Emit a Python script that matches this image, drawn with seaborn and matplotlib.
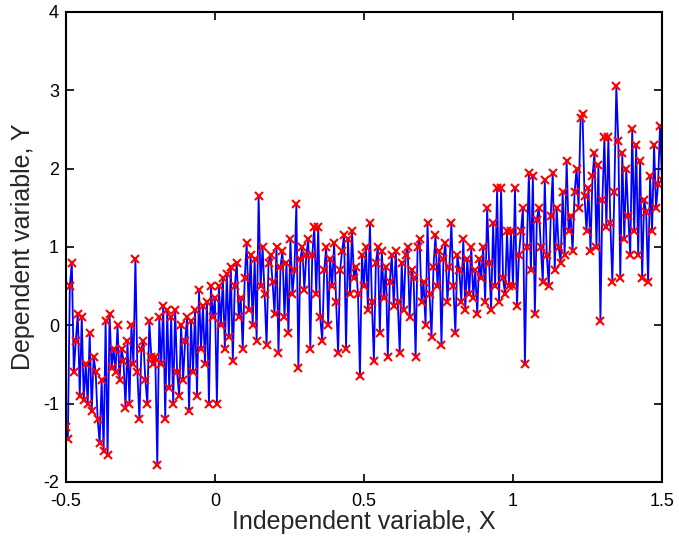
import numpy as np
import pandas as pd
import matplotlib
matplotlib.use("Agg")
import matplotlib.pyplot as plt
import seaborn as sns

y_values = [
    -1.3, -1.45, 0.5, 0.8, -0.6, -0.2, 0.15, -0.9, 0.1, -0.95, -0.5, -1.0, -0.1, -1.1, -0.4,
    -0.6, -1.2, -1.5, -0.7, -1.6, 0.05, -1.65, 0.15, -0.55, -0.3, -0.6, 0.0, -0.7, -0.3, -0.45,
    -1.05, -0.2, -1.0, 0.0, -0.5, 0.85, -0.6, -1.2, -0.3, -0.2, -0.7, -1.0, 0.05, -0.4, -0.5,
    -0.4, -1.78, 0.1, -0.5, 0.25, -1.2, 0.2, -0.8, 0.1, -1.0, 0.2, -0.6, -0.9, 0.0, -0.7,
    -0.2, 0.1, -1.1, 0.05, -0.6, 0.2, -0.9, 0.45, -0.3, 0.25, -0.5, 0.3, -1.0, 0.5, 0.1,
    0.35, -1.0, 0.5, 0.0, 0.6, -0.3, 0.65, -0.15, 0.75, -0.45, 0.5, 0.8, 0.1, 0.35, -0.3,
    0.6, 1.05, 0.2, 0.9, 0.0, 0.85, -0.2, 1.65, 0.5, 1.0, 0.4, -0.25, 0.8, 0.9, 0.55,
    0.15, 1.0, -0.35, 0.75, 0.95, 0.1, 0.8, -0.1, 1.1, 0.4, 0.7, 1.55, -0.55, 0.85, 1.0,
    0.45, 0.9, 1.1, -0.3, 0.9, 1.25, 0.4, 1.25, 0.1, -0.2, 0.7, 1.0, 0.0, 0.85, 0.5,
    1.05, 0.3, -0.35, 0.7, 0.95, 1.15, -0.3, 1.1, 0.4, 1.2, 0.6, 0.75, 0.4, -0.65, 0.9,
    0.5, 1.0, 0.2, 1.3, 0.3, -0.45, 0.8, 1.0, -0.1, 0.95, 0.35, 0.75, -0.4, 0.55, 0.9,
    0.25, 0.95, 0.3, -0.35, 0.8, 0.2, 0.9, 1.0, 0.1, 0.7, 0.6, -0.4, 1.0, 1.1, 0.3,
    0.55, 0.0, 1.3, 0.4, -0.15, 0.75, 1.15, 0.5, 0.95, -0.25, 0.85, 1.05, 0.3, 0.75, 1.3,
    0.5, -0.1, 0.9, 0.7, 0.3, 1.1, 0.2, 0.85, 0.4, 1.0, 0.35, 0.7, 0.15, 0.85, 0.6,
    1.0, 0.3, 1.5, 0.8, 0.2, 1.3, 0.5, 1.75, 0.3, 1.75, 0.6, 0.4, 1.2, 0.5, 1.2,
    0.5, 1.75, 0.25, 0.9, 1.2, 1.5, -0.5, 1.0, 1.95, 0.7, 1.9, 0.15, 1.35, 1.5, 1.0,
    0.55, 1.85, 0.9, 0.5, 1.4, 1.95, 0.7, 1.5, 1.0, 0.8, 1.7, 0.9, 2.1, 1.2, 1.4,
    0.95, 1.7, 2.0, 1.5, 2.65, 2.7, 1.65, 1.2, 1.75, 0.95, 1.9, 2.2, 1.0, 2.05, 0.05,
    1.6, 2.4, 1.25, 2.4, 1.3, 0.55, 1.7, 3.05, 2.35, 0.6, 2.2, 1.1, 2.0, 1.4, 0.9,
    2.5, 1.2, 2.3, 0.9, 2.1, 0.6, 1.6, 1.45, 0.55, 1.9, 1.2, 2.3, 1.5, 1.8, 2.55, 1.85,
]
x_start, x_end = -0.5, 1.5
x_values = np.linspace(x_start, x_end, len(y_values))
x_ticks = [-0.5, 0, 0.5, 1, 1.5]
x_tick_labels = ["-0.5", "0", "0.5", "1", "1.5"]
y_ticks = [-2, -1, 0, 1, 2, 3, 4]
y_tick_labels = ["-2", "-1", "0", "1", "2", "3", "4"]
x_label = "Independent variable, X"
y_label = "Dependent variable, Y"

df = pd.DataFrame({"X": x_values, "Y": y_values})

sns.set_theme(style="white")
plt.rcParams["font.family"] = ["Liberation Sans", "DejaVu Sans"]
plt.rcParams["axes.unicode_minus"] = False

fig = plt.figure(figsize=(6.79, 5.44), dpi=100)
ax = fig.add_axes([0.097, 0.114, 0.878, 0.864])

sns.lineplot(data=df, x="X", y="Y", ax=ax, sort=False, estimator=None,
             color="#0000ff", linewidth=1.3, marker="x", markersize=5.5,
             markeredgecolor="#ff0000", markerfacecolor="#ff0000",
             markeredgewidth=1.5)

ax.set_xlim(-0.5, 1.5)
ax.set_ylim(-2, 4)
ax.set_xticks(x_ticks)
ax.set_xticklabels(x_tick_labels)
ax.set_yticks(y_ticks)
ax.set_yticklabels(y_tick_labels)
ax.tick_params(direction="in", length=6, width=1.2, labelsize=13, colors="black",
               top=True, right=True, bottom=True, left=True)
ax.tick_params(axis="x", pad=8)
ax.tick_params(axis="y", pad=5)
for s in ax.spines.values():
    s.set_color("black")
    s.set_linewidth(1.5)
ax.set_xlabel(x_label, fontsize=18, labelpad=0)
ax.set_ylabel(y_label, fontsize=18, labelpad=6)

fig.savefig("out.png", dpi=100)
